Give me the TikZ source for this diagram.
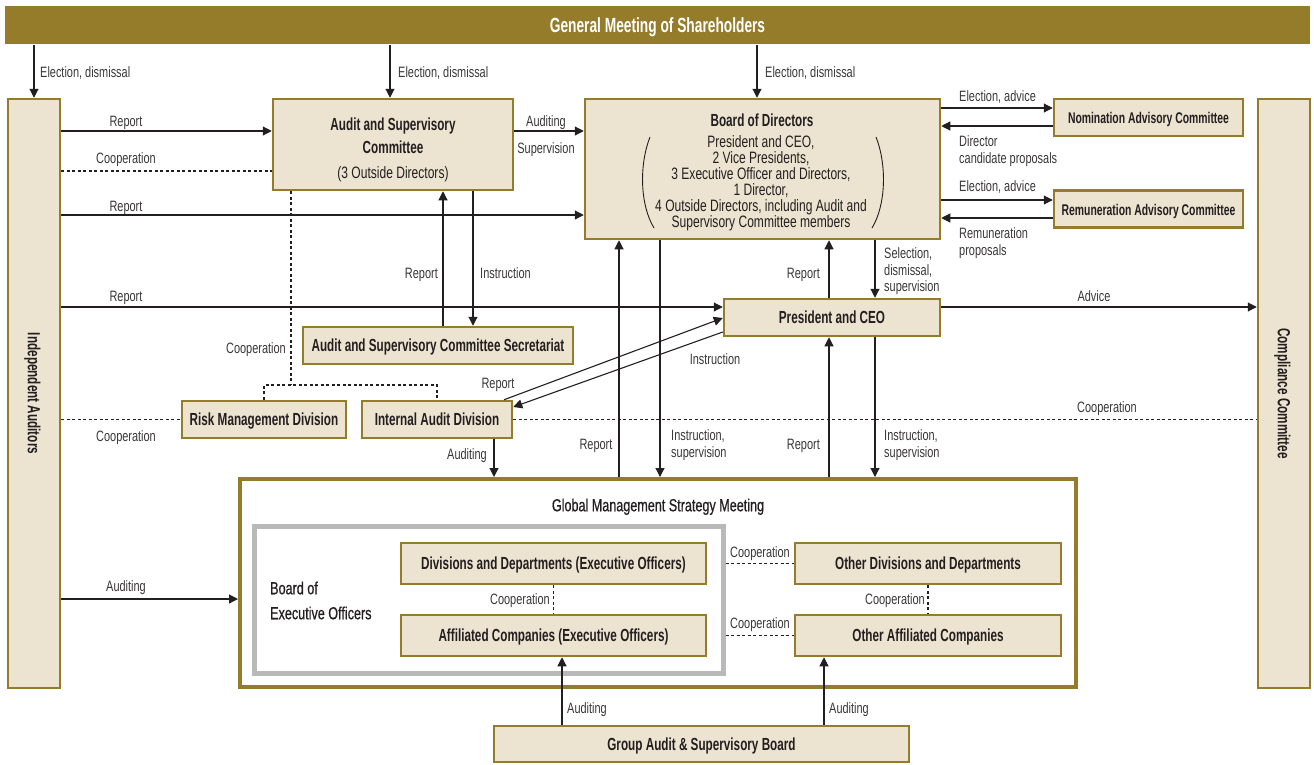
\documentclass[tikz,border=0pt]{standalone}
\usepackage{fontspec}
\setmainfont{Liberation Sans}[FakeStretch=0.73]
\newfontfamily\bldfam{Liberation Sans}[FakeStretch=0.67]
\newfontfamily\medfam{Liberation Sans}[FakeStretch=0.72, FakeBold=0.6]
\usetikzlibrary{arrows.meta}
\definecolor{gold}{RGB}{148,124,43}
\definecolor{beige}{RGB}{236,228,208}
\definecolor{ink}{RGB}{35,31,32}
\definecolor{labc}{RGB}{58,55,56}
\definecolor{greyb}{RGB}{185,185,185}
\newcommand\lfont{\fontsize{15}{16}\selectfont}
\newcommand\bfont{\bldfam\bfseries\fontsize{17.5}{19}\selectfont}
\newcommand\nfont{\bldfam\bfseries\fontsize{15.5}{17}\selectfont}
\newcommand\sfont{\fontsize{16.5}{16}\selectfont}
\newcommand\mfont{\medfam\fontsize{17.5}{19}\selectfont}
\newcommand\tfont{\bldfam\bfseries\fontsize{20.5}{22}\selectfont}
\begin{document}
\begin{tikzpicture}[x=1pt,y=-1pt,
  box/.style={draw=gold, fill=beige, line width=2.5pt, inner sep=0pt, text=ink, font=\bfont, text height=12.5pt, text depth=0pt},
  btxt/.style={inner sep=0pt, text=ink, font=\bfont, text height=12.5pt, text depth=0pt},
  stxt/.style={inner sep=0pt, text=ink, font=\sfont, text height=11.8pt, text depth=0pt},
  mtxt/.style={inner sep=0pt, text=ink, font=\mfont, text height=12.5pt, text depth=0pt},
  tlab/.style={inner sep=0pt, text=labc, font=\lfont, text height=10.7pt, text depth=0pt},
  arr/.style={draw=ink, line width=1.1pt, -{Triangle[length=9pt,width=9pt]}},
  coop/.style={draw=ink, line width=1.1pt, dash pattern=on 3pt off 2.5pt}]
\useasboundingbox (0,0) rectangle (1314,764);
\fill[white] (0,0) rectangle (1314,764);

% ---------- nodes ----------
\node[box, fill=gold, draw=none, minimum width=1305pt, minimum height=38pt, text=white, font=\tfont, text height=14.5pt] (gm) at (657.5,25) {General Meeting of Shareholders};
\node[box, minimum width=52pt, minimum height=589pt] (ia) at (34,393.5) {};
\node[btxt, rotate=-90] (iat) at (ia.center) {Independent Auditors};
\node[box, minimum width=52pt, minimum height=589pt] (cc) at (1284,393.5) {};
\node[btxt, rotate=-90] (cct) at (cc.center) {Compliance Committee};

\node[box, minimum width=240pt, minimum height=91pt] (asc) at (393,144.5) {};
\node[btxt] (asct1) at (393,124) {Audit and Supervisory};
\node[btxt] (asct2) at (393,147) {Committee};
\node[stxt] (asct3) at (393,173) {(3 Outside Directors)};

\node[box, minimum width=355pt, minimum height=140pt] (bod) at (762.5,169) {};
\node[btxt] (bodt) at (762,120) {Board of Directors};
\node[stxt] (bod1) at (761,142) {President and CEO,};
\node[stxt] (bod2) at (761,158) {2 Vice Presidents,};
\node[stxt] (bod3) at (761,174) {3 Executive Officer and Directors,};
\node[stxt] (bod4) at (761,190) {1 Director,};
\node[stxt] (bod5) at (761,206) {4 Outside Directors, including Audit and};
\node[stxt] (bod6) at (761,222) {Supervisory Committee members};
\draw[ink, line width=0.9pt] (650,137) .. controls (639,165) and (640,205) .. (654,228);
\draw[ink, line width=0.9pt] (876,137) .. controls (887,165) and (886,205) .. (872,228);

\node[box, minimum width=189pt, minimum height=37pt, font=\nfont] (nom) at (1148.5,117.5) {Nomination Advisory Committee};
\node[box, minimum width=189pt, minimum height=37pt, font=\nfont] (rem) at (1148.5,209) {Remuneration Advisory Committee};
\node[box, minimum width=216pt, minimum height=37pt] (pres) at (832,317.5) {President and CEO};
\node[box, minimum width=270pt, minimum height=37pt] (sec) at (438,345.5) {Audit and Supervisory Committee Secretariat};
\node[box, minimum width=164pt, minimum height=37pt] (risk) at (264,419.5) {Risk Management Division};
\node[box, minimum width=150pt, minimum height=37pt] (iad) at (437,419.5) {Internal Audit Division};

\node[draw=gold, fill=white, line width=4pt, minimum width=836pt, minimum height=208pt, inner sep=0pt] (gms) at (658,583) {};
\node[mtxt] (gmst) at (658,505) {Global Management Strategy Meeting};
\node[draw=greyb, fill=white, line width=5pt, minimum width=469pt, minimum height=147pt, inner sep=0pt] (boe) at (488.5,599.5) {};
\node[mtxt, anchor=west] (boet1) at (270,588) {Board of};
\node[mtxt, anchor=west] (boet2) at (270,613) {Executive Officers};
\node[box, minimum width=305pt, minimum height=41pt] (div) at (553.5,563.5) {Divisions and Departments (Executive Officers)};
\node[box, minimum width=305pt, minimum height=41pt] (aff) at (553.5,635.5) {Affiliated Companies (Executive Officers)};
\node[box, minimum width=266pt, minimum height=41pt] (odiv) at (928,563.5) {Other Divisions and Departments};
\node[box, minimum width=266pt, minimum height=41pt] (oaff) at (928,635.5) {Other Affiliated Companies};
\node[box, minimum width=415pt, minimum height=36pt] (gasb) at (701.5,744) {Group Audit \& Supervisory Board};

% ---------- helper coordinates ----------
\foreach \v in {291,390,443,473,494,504,562,619,660,757,824,829,875}{\coordinate (x\v) at (\v,0);}
\foreach \v in {108,126,131,171,200,215,218,307,318,332,385,407,599}{\coordinate (y\v) at (0,\v);}

% ---------- connectors ----------
\draw[arr] (gm.south -| ia.north) -- (ia.north);
\draw[arr] (gm.south -| x390) -- (asc.north -| x390);
\draw[arr] (gm.south -| x757) -- (bod.north -| x757);

\draw[arr] (ia.east |- y131) -- (asc.west |- y131);
\draw[coop] (ia.east |- y171) -- (asc.west |- y171);
\draw[arr] (ia.east |- y215) -- (bod.west |- y215);
\draw[arr] (ia.east |- y307) -- (pres.west |- y307);
\draw[coop] (ia.east |- risk.west) -- (risk.west);
\draw[arr] (ia.east |- y599) -- (gms.west |- y599);

\draw[arr] (asc.east |- y131) -- (bod.west |- y131);
\draw[arr] (sec.north -| x443) -- (asc.south -| x443);
\draw[arr] (asc.south -| x473) -- (sec.north -| x473);

\draw[coop] (asc.south -| x291) -- (x291 |- y385);
\draw[coop] (risk.north) -- (risk.north |- y385) -- (iad.north |- y385) -- (iad.north);
\draw[coop] (iad.east) -- (cc.west |- iad.east);

\draw[arr] (iad.north -| x504) -- (pres.west |- y318);
\draw[arr] (pres.west |- y332) -- (iad.east |- y407);
\draw[arr] (iad.south -| x494) -- (gms.north -| x494);

\draw[arr] (gms.north -| x619) -- (bod.south -| x619);
\draw[arr] (bod.south -| x660) -- (gms.north -| x660);
\draw[arr] (pres.north -| x829) -- (bod.south -| x829);
\draw[arr] (bod.south -| x875) -- (pres.north -| x875);
\draw[arr] (gms.north -| x829) -- (pres.south -| x829);
\draw[arr] (pres.south -| x875) -- (gms.north -| x875);
\draw[arr] (pres.east |- y307) -- (cc.west |- y307);

\draw[arr] (bod.east |- y108) -- (nom.west |- y108);
\draw[arr] (nom.west |- y126) -- (bod.east |- y126);
\draw[arr] (bod.east |- y200) -- (rem.west |- y200);
\draw[arr] (rem.west |- y218) -- (bod.east |- y218);

\draw[coop] (boe.east |- div.east) -- (odiv.west);
\draw[coop] (boe.east |- aff.east) -- (oaff.west);
\draw[coop] (div.south) -- (aff.north);
\draw[coop] (odiv.south) -- (oaff.north);
\draw[arr] (gasb.north -| x562) -- (aff.south -| x562);
\draw[arr] (gasb.north -| x824) -- (oaff.south -| x824);

% ---------- labels ----------
\node[tlab, anchor=west] (l1) at (40,72) {Election, dismissal};
\node[tlab, anchor=west] (l2) at (398,72) {Election, dismissal};
\node[tlab, anchor=west] (l3) at (765,72) {Election, dismissal};
\node[tlab] (l4) at (126,121) {Report};
\node[tlab] (l5) at (126,158) {Cooperation};
\node[tlab] (l6) at (126,206) {Report};
\node[tlab] (l7) at (126,296) {Report};
\node[tlab] (l8) at (126,436) {Cooperation};
\node[tlab] (l9) at (126,586) {Auditing};
\node[tlab] (l10) at (546,121) {Auditing};
\node[tlab] (l11) at (546,148) {Supervision};
\node[tlab, anchor=east] (l12) at (438,273) {Report};
\node[tlab, anchor=west] (l13) at (480,273) {Instruction};
\node[tlab, anchor=east] (l14) at (286,348) {Cooperation};
\node[tlab] (l15) at (498,383) {Report};
\node[tlab] (l16) at (715,359) {Instruction};
\node[tlab, anchor=east] (l17) at (487,454) {Auditing};
\node[tlab] (l18) at (596,444) {Report};
\node[tlab, anchor=west] (l19) at (671,435) {Instruction,};
\node[tlab, anchor=west] (l20) at (671,452) {supervision};
\node[tlab, anchor=east] (l21) at (820,273) {Report};
\node[tlab, anchor=west] (l22) at (884,253) {Selection,};
\node[tlab, anchor=west] (l23) at (884,270) {dismissal,};
\node[tlab, anchor=west] (l24) at (884,286) {supervision};
\node[tlab, anchor=east] (l25) at (820,444) {Report};
\node[tlab, anchor=west] (l26) at (884,435) {Instruction,};
\node[tlab, anchor=west] (l27) at (884,452) {supervision};
\node[tlab, anchor=west] (l28) at (959,96) {Election, advice};
\node[tlab, anchor=west] (l29) at (959,141) {Director};
\node[tlab, anchor=west] (l30) at (959,158) {candidate proposals};
\node[tlab, anchor=west] (l31) at (959,186) {Election, advice};
\node[tlab, anchor=west] (l32) at (959,233) {Remuneration};
\node[tlab, anchor=west] (l33) at (959,250) {proposals};
\node[tlab] (l34) at (1094,296) {Advice};
\node[tlab] (l35) at (1107,407) {Cooperation};
\node[tlab] (l36) at (760,552) {Cooperation};
\node[tlab] (l37) at (760,623) {Cooperation};
\node[tlab, anchor=east] (l38) at (550,599) {Cooperation};
\node[tlab, anchor=east] (l39) at (925,599) {Cooperation};
\node[tlab, anchor=west] (l40) at (567,708) {Auditing};
\node[tlab, anchor=west] (l41) at (829,708) {Auditing};
\end{tikzpicture}
\end{document}
